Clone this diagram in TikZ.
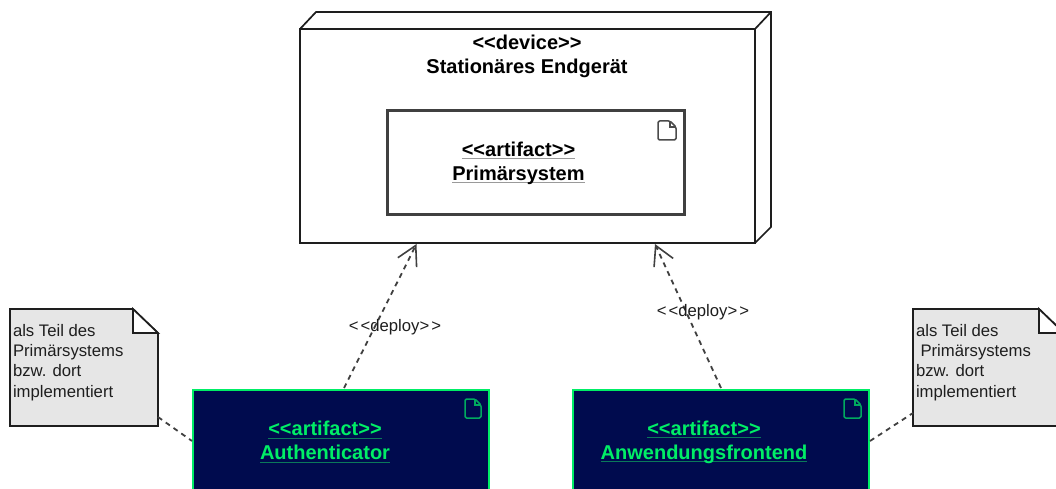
\documentclass[tikz,border=0pt]{standalone}
\usepackage{fontspec}
\setmainfont{Liberation Sans}
\usetikzlibrary{arrows.meta}
\definecolor{navy}{HTML}{000B4E}
\definecolor{mint}{HTML}{00EE66}
\definecolor{mintdim}{HTML}{0A7A5A}
\definecolor{ink}{HTML}{1E1E1E}
\definecolor{notefill}{HTML}{E6E6E6}
\newsavebox{\ulbox}
\newcommand{\ultext}[2]{\sbox{\ulbox}{#2}\rlap{\textcolor{#1}{\rule[-2.6pt]{\wd\ulbox}{1pt}}}\usebox{\ulbox}}
\tikzset{
  x=1pt,y=-1pt,
  every node/.style={inner sep=0pt,outer sep=0pt},
  boxnode/.style={rectangle,anchor=north west,minimum width=#1},
  devicebox/.style={draw=ink,line width=1.7pt,fill=white,line join=miter},
  plainart/.style={draw=ink!85,line width=3pt,fill=white},
  darkart/.style={draw=mint,line width=2pt,fill=navy},
  notebox/.style={draw=ink,line width=1.7pt,fill=notefill,line join=miter},
  bigtext/.style={font=\fontsize{20}{24}\selectfont\bfseries,align=center,text=black},
  darktext/.style={font=\fontsize{20}{24}\selectfont\bfseries,align=center,text=mint},
  notetext/.style={font=\fontsize{16.7}{20.3}\selectfont,align=left,anchor=north west,text=ink},
  deploylabel/.style={font=\fontsize{16.7}{17}\selectfont,text=ink},
  dep/.style={draw=ink!85,line width=1.8pt,dash pattern=on 5pt off 4.5pt},
  deparrow/.style={dep,-{Straight Barb[length=19pt,width=21pt,line width=1.6pt]}},
  docicon/.style={line width=1.5pt,rounded corners=1.5pt,line join=round},
}
\begin{document}
\begin{tikzpicture}
\useasboundingbox (0,0) rectangle (1056,489);
\clip (0,0) rectangle (1056,489);
\fill[white] (0,0) rectangle (1056,489);
% device
\draw[devicebox] (300,29) -- (316,12) -- (771,12) -- (771,227) -- (755,243);
\draw[devicebox] (755,29) -- (771,12);
\node[devicebox,boxnode=455pt,minimum height=214pt] (device) at (300,29) {};
\node[bigtext] (devlabel) at (527,56.5) {<{}<device>{}>\\Stationäres Endgerät};
% primärsystem
\node[plainart,boxnode=297pt,minimum height=103pt] (prim) at (387,111) {};
\node[bigtext] (primlabel) at (518.5,163) {\ultext{ink!45}{<{}<artifact>{}>}\\\ultext{ink!45}{Primärsystem}};
\draw[docicon,draw=ink!80] (658,121) -- (658,140) -- (676,140) -- (676,127) -- (670,121) -- cycle;
\draw[line width=1.2pt,draw=ink!80] (670,121) -- (670,127) -- (676,127);
% authenticator
\node[darkart,boxnode=296pt,minimum height=120pt] (auth) at (193,389.5) {};
\node[darktext] (authlabel) at (325,442) {\ultext{mintdim}{<{}<artifact>{}>}\\\ultext{mintdim}{Authenticator}};
\draw[docicon,draw=mint!70!navy] (465,399) -- (465,418) -- (481,418) -- (481,405) -- (475,399) -- cycle;
\draw[line width=1.2pt,draw=mint!70!navy] (475,399) -- (475,405) -- (481,405);
% anwendungsfrontend
\node[darkart,boxnode=296pt,minimum height=120pt] (front) at (573,389.5) {};
\node[darktext] (frontlabel) at (704,442) {\ultext{mintdim}{<{}<artifact>{}>}\\\ultext{mintdim}{Anwendungsfrontend}};
\draw[docicon,draw=mint!70!navy] (844,399) -- (844,418) -- (861,418) -- (861,405) -- (855,399) -- cycle;
\draw[line width=1.2pt,draw=mint!70!navy] (855,399) -- (855,405) -- (861,405);
% notes
\draw[notebox] (10,309) -- (133,309) -- (158,333) -- (158,426) -- (10,426) -- cycle;
\draw[draw=ink,line width=1.7pt,fill=white,line join=miter] (133,309) -- (158,333) -- (133,333) -- cycle;
\node[notetext] (noteA) at (13,324) {als Teil des\\Primärsystems\\bzw. dort\\implementiert};
\draw[notebox] (913,309) -- (1039,309) -- (1064,333) -- (1064,426) -- (913,426) -- cycle;
\draw[draw=ink,line width=1.7pt,fill=white,line join=miter] (1039,309) -- (1064,333) -- (1039,333) -- cycle;
\node[notetext] (noteB) at (916,324) {als Teil des\\\hspace{4.5pt}Primärsystems\\bzw. dort\\implementiert};
% connectors
\coordinate (authTop) at (344,388);
\coordinate (devA) at (416.5,244);
\coordinate (frontTop) at (721,388);
\coordinate (devB) at (655,244);
\coordinate (noteAout) at (158,417);
\coordinate (authIn) at (192,441);
\coordinate (frontOut) at (870,441);
\coordinate (noteBin) at (913,413);
\draw[deparrow] (authTop) -- (devA);
\draw[deparrow] (frontTop) -- (devB);
\draw[dep] (noteAout) -- (authIn);
\draw[dep] (frontOut) -- (noteBin);
\node[deploylabel] (depA) at (395,327.5) {<\kern2pt<deploy>\kern2pt>};
\node[deploylabel] (depB) at (703,312.5) {<\kern2pt<deploy>\kern2pt>};
\end{tikzpicture}
\end{document}
